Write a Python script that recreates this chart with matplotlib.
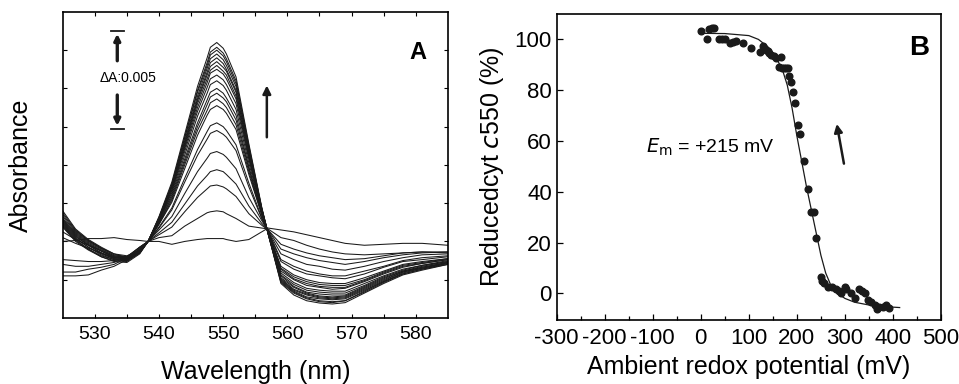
import matplotlib
matplotlib.use("Agg")
import matplotlib.pyplot as plt

plt.rcParams['font.family'] = ['Liberation Sans', 'DejaVu Sans']
plt.rcParams['axes.unicode_minus'] = False

# Panel A: redox-titration difference spectra (absorbance x 1e-3)
wavelength = [525, 527, 529, 531, 533, 535, 537, 538.3, 540, 542, 544, 546, 547.5, 548,
              549, 550, 550.5, 552, 554, 556, 557, 559, 561, 563, 565, 567, 569, 572,
              575, 578, 581, 585]

spectra = [
    [0.0, 0.05, 0.15, 0.15, 0.2, 0.1, 0.05, 0.0, 0.0, -0.15, 0.0, 0.1, 0.15, 0.15, 0.15, 0.15, 0.1, 0.0,
     0.1, 0.5, 0.7, 0.6, 0.5, 0.35, 0.2, 0.05, -0.1, -0.2, -0.15, -0.1, -0.1, -0.2],
    [-1.8, -1.8, -1.75, -1.5, -1.3, -0.95, -0.35, 0.0, 0.2, 0.3, 0.8, 1.2, 1.5, 1.55, 1.6, 1.55, 1.45, 1.2,
     0.8, 0.7, 0.65, 0.2, 0.05, -0.2, -0.4, -0.55, -0.65, -0.7, -0.65, -0.6, -0.55, -0.6],
    [-1.6, -1.6, -1.45, -1.35, -1.2, -0.85, -0.3, 0.0, 0.35, 0.75, 1.55, 2.3, 2.75, 2.9, 2.95, 2.85, 2.75, 2.35,
     1.45, 0.85, 0.6, -0.15, -0.4, -0.6, -0.75, -0.85, -0.95, -0.9, -0.75, -0.6, -0.55, -0.55],
    [-1.2, -1.3, -1.3, -1.2, -1.1, -0.8, -0.3, 0.0, 0.45, 1.0, 1.95, 2.9, 3.45, 3.65, 3.75, 3.65, 3.5, 3.0,
     1.85, 0.95, 0.6, -0.4, -0.65, -0.85, -1.0, -1.1, -1.2, -1.05, -0.85, -0.7, -0.6, -0.55],
    [-0.95, -1.0, -1.05, -1.05, -1.0, -0.8, -0.3, 0.0, 0.6, 1.3, 2.5, 3.65, 4.35, 4.6, 4.7, 4.55, 4.4, 3.8,
     2.3, 1.1, 0.55, -0.65, -0.95, -1.2, -1.3, -1.45, -1.5, -1.3, -1.05, -0.85, -0.7, -0.65],
    [0.2, -0.1, -0.35, -0.6, -0.85, -0.85, -0.4, 0.0, 0.7, 1.65, 3.1, 4.5, 5.35, 5.65, 5.8, 5.6, 5.45, 4.75,
     2.85, 1.2, 0.55, -0.95, -1.3, -1.55, -1.7, -1.8, -1.8, -1.55, -1.3, -1.0, -0.85, -0.75],
    [0.5, 0.1, -0.2, -0.5, -0.8, -0.85, -0.45, 0.0, 0.75, 1.75, 3.3, 4.8, 5.75, 6.05, 6.2, 6.0, 5.8, 5.05,
     3.05, 1.25, 0.5, -1.05, -1.45, -1.7, -1.8, -1.9, -1.95, -1.7, -1.35, -1.05, -0.95, -0.8],
    [0.75, 0.0, -0.45, -0.8, -1.0, -1.05, -0.6, 0.0, 0.9, 2.05, 3.8, 5.55, 6.6, 6.9, 7.1, 6.9, 6.7, 5.85,
     3.5, 1.4, 0.5, -1.3, -1.75, -2.0, -2.15, -2.2, -2.2, -1.9, -1.55, -1.2, -1.05, -0.9],
    [0.8, 0.05, -0.4, -0.75, -0.95, -1.0, -0.6, 0.0, 0.9, 2.15, 4.0, 5.8, 6.85, 7.25, 7.45, 7.2, 7.0, 6.1,
     3.65, 1.4, 0.5, -1.4, -1.85, -2.1, -2.25, -2.3, -2.3, -2.0, -1.6, -1.25, -1.1, -0.9],
    [0.85, 0.1, -0.4, -0.8, -1.05, -1.1, -0.65, 0.0, 0.95, 2.25, 4.15, 6.0, 7.15, 7.55, 7.75, 7.5, 7.3, 6.35,
     3.8, 1.45, 0.5, -1.45, -1.95, -2.2, -2.35, -2.4, -2.4, -2.05, -1.65, -1.3, -1.15, -0.95],
    [0.9, 0.15, -0.3, -0.65, -0.9, -0.95, -0.55, 0.0, 1.0, 2.35, 4.3, 6.2, 7.4, 7.8, 8.0, 7.75, 7.5, 6.6,
     3.9, 1.5, 0.45, -1.55, -2.0, -2.3, -2.4, -2.5, -2.45, -2.1, -1.7, -1.35, -1.15, -0.95],
    [0.95, 0.2, -0.3, -0.7, -0.95, -1.0, -0.6, 0.0, 1.05, 2.45, 4.5, 6.55, 7.75, 8.2, 8.4, 8.15, 7.9, 6.9,
     4.1, 1.55, 0.45, -1.65, -2.15, -2.45, -2.55, -2.6, -2.6, -2.2, -1.8, -1.45, -1.25, -1.0],
    [1.0, 0.25, -0.2, -0.6, -0.85, -0.9, -0.55, 0.0, 1.1, 2.55, 4.7, 6.8, 8.05, 8.5, 8.7, 8.45, 8.2, 7.2,
     4.3, 1.6, 0.45, -1.75, -2.25, -2.55, -2.65, -2.7, -2.7, -2.3, -1.85, -1.5, -1.25, -1.05],
    [1.05, 0.3, -0.2, -0.6, -0.9, -0.95, -0.55, 0.0, 1.1, 2.65, 4.85, 7.0, 8.3, 8.8, 9.0, 8.75, 8.5, 7.45,
     4.4, 1.6, 0.45, -1.8, -2.35, -2.65, -2.75, -2.8, -2.8, -2.35, -1.9, -1.55, -1.3, -1.05],
    [1.1, 0.35, -0.15, -0.5, -0.8, -0.85, -0.5, 0.0, 1.15, 2.7, 4.95, 7.2, 8.5, 8.95, 9.2, 8.9, 8.7, 7.6,
     4.5, 1.65, 0.45, -1.9, -2.4, -2.7, -2.85, -2.9, -2.85, -2.4, -1.95, -1.55, -1.35, -1.1],
    [1.15, 0.4, -0.1, -0.5, -0.85, -0.9, -0.55, 0.0, 1.2, 2.8, 5.05, 7.35, 8.7, 9.15, 9.4, 9.1, 8.9, 7.8,
     4.6, 1.7, 0.45, -1.95, -2.5, -2.75, -2.9, -2.95, -2.9, -2.45, -2.0, -1.6, -1.35, -1.1],
    [1.2, 0.45, -0.05, -0.45, -0.75, -0.8, -0.5, 0.0, 1.2, 2.85, 5.15, 7.45, 8.85, 9.35, 9.6, 9.3, 9.0, 7.9,
     4.7, 1.7, 0.4, -2.0, -2.55, -2.8, -2.95, -3.0, -2.95, -2.5, -2.05, -1.6, -1.4, -1.1],
    [1.3, 0.5, 0.0, -0.4, -0.75, -0.85, -0.5, 0.0, 1.2, 2.9, 5.25, 7.6, 9.05, 9.55, 9.8, 9.5, 9.2, 8.1,
     4.8, 1.7, 0.4, -2.05, -2.6, -2.9, -3.0, -3.05, -3.0, -2.55, -2.1, -1.65, -1.4, -1.15],
    [1.4, 0.55, 0.05, -0.35, -0.65, -0.75, -0.45, 0.0, 1.25, 2.95, 5.4, 7.8, 9.2, 9.75, 10.0, 9.7, 9.4, 8.25,
     4.9, 1.75, 0.4, -2.1, -2.65, -2.95, -3.1, -3.15, -3.1, -2.6, -2.1, -1.7, -1.45, -1.15],
    [1.5, 0.6, 0.05, -0.35, -0.7, -0.8, -0.5, 0.0, 1.25, 3.0, 5.45, 7.9, 9.35, 9.9, 10.15, 9.85, 9.55, 8.4,
     5.0, 1.75, 0.4, -2.15, -2.7, -3.0, -3.15, -3.2, -3.1, -2.65, -2.15, -1.7, -1.45, -1.2],
    [1.6, 0.65, 0.1, -0.3, -0.65, -0.85, -0.55, 0.0, 1.3, 3.1, 5.6, 8.1, 9.6, 10.15, 10.4, 10.1, 9.8, 8.6,
     5.1, 1.8, 0.4, -2.2, -2.8, -3.1, -3.22, -3.27, -3.2, -2.7, -2.2, -1.75, -1.5, -1.2],
]

# Panel B: reduced cyt c550 vs ambient redox potential
potential_mv = [0, 12, 17, 24, 28, 38, 45, 50, 61, 68, 73, 87, 104, 124, 130, 132, 136, 139,
                143, 146, 152, 157, 163, 167, 170, 174, 178, 182, 184, 188, 192, 196, 202,
                207, 214, 223, 230, 235, 240, 250, 253, 256, 264, 273, 282, 287, 292, 300,
                303, 313, 320, 330, 335, 341, 348, 355, 362, 367, 372, 380, 386, 391]
reduced_pct = [103.4, 100.0, 104.0, 104.3, 104.3, 100.1, 100.3, 100.1, 98.7, 99.0, 99.5, 98.7,
               96.5, 95.1, 97.4, 96.5, 96.0, 95.5, 94.8, 93.8, 93.5, 92.5, 89.2, 92.9, 88.8,
               88.6, 88.6, 88.6, 85.6, 83.3, 79.4, 74.8, 66.3, 62.7, 52.1, 41.1, 32.2, 32.2,
               21.7, 6.6, 4.8, 3.9, 2.6, 2.4, 1.6, 1.0, 0.0, 2.6, 1.8, 0.0, -2.0, 1.6, 0.8,
               0.3, -2.6, -3.5, -4.6, -6.0, -5.2, -5.5, -4.6, -5.9]

fit_mv = [0, 50, 100, 120, 140, 155, 170, 180, 190, 200, 210, 220, 230, 240, 250, 260,
          270, 285, 300, 320, 350, 380, 414]
fit_pct = [102.4, 102.3, 101.5, 100.0, 97.0, 93.5, 88.0, 82.0, 73.0, 62.0, 52.0, 42.0, 33.0,
           24.0, 15.0, 8.0, 3.5, 0.0, -2.0, -3.5, -4.6, -5.2, -5.6]

fig = plt.figure(figsize=(9.59, 3.84), dpi=100)
axA = fig.add_axes([0.0654, 0.172, 0.4016, 0.797])
axB = fig.add_axes([0.5805, 0.1667, 0.4007, 0.7968])

# ---- Panel A ----
for row in spectra:
    axA.plot(wavelength, row, color="#1a1a1a", lw=0.75)

axA.set_xlim(525, 585)
axA.set_ylim(-4, 12)
axA.set_xticks([530, 540, 550, 560, 570, 580])
axA.set_xticks([535, 545, 555, 565, 575], minor=True)
axA.set_yticks([-2, 0, 2, 4, 6, 8, 10])
axA.set_yticklabels([])
axA.tick_params(axis="both", which="both", direction="in", top=True, right=True,
                length=3, width=0.8, labelsize=14)
axA.tick_params(axis="x", pad=6)
for s in axA.spines.values():
    s.set_linewidth(1.2)
axA.set_xlabel("Wavelength (nm)", fontsize=18, labelpad=12)
axA.set_ylabel("Absorbance", fontsize=18, labelpad=18)

# scale bar
bar_x = 533.5
axA.annotate("", xy=(bar_x, 11.0), xytext=(bar_x, 9.3),
             arrowprops=dict(arrowstyle="-|>", color="#1a1a1a", lw=2.4, mutation_scale=9))
axA.annotate("", xy=(bar_x, 5.9), xytext=(bar_x, 7.8),
             arrowprops=dict(arrowstyle="-|>", color="#1a1a1a", lw=2.4, mutation_scale=9))
axA.plot([bar_x - 1.0, bar_x + 1.0], [11.0, 11.0], color="#1a1a1a", lw=1.3)
axA.plot([bar_x - 1.0, bar_x + 1.0], [5.9, 5.9], color="#1a1a1a", lw=1.3)
axA.text(535.2, 8.55, "\u0394A:0.005", fontsize=10, ha="center", va="center")
axA.annotate("", xy=(556.8, 8.3), xytext=(556.8, 5.3),
             arrowprops=dict(arrowstyle="-|>", color="#1a1a1a", lw=1.8, mutation_scale=12))
axA.text(580.4, 9.9, "A", fontsize=17, fontweight="bold", ha="center", va="center")

# ---- Panel B ----
axB.plot(fit_mv, fit_pct, color="#1a1a1a", lw=0.9)
axB.plot(potential_mv, reduced_pct, "o", color="#1a1a1a", ms=4.8)
axB.set_xlim(-300, 500)
axB.set_ylim(-10.5, 110)
axB.set_xticks(range(-300, 501, 100))
axB.set_xticks(range(-250, 500, 100), minor=True)
axB.set_yticks(range(0, 101, 20))
axB.tick_params(axis="both", which="both", direction="in", length=4, width=0.9, labelsize=16)
axB.tick_params(axis="x", which="minor", length=3)
axB.tick_params(axis="x", pad=6)
for s in axB.spines.values():
    s.set_linewidth(1.2)
axB.set_xlabel("Ambient redox potential (mV)", fontsize=18, labelpad=4)
axB.set_ylabel("Reducedcyt $\\mathit{c}$550 (%)", fontsize=18, labelpad=6)
axB.text(20, 57.5, "$\\mathit{E}_{\\mathrm{m}}$ = +215 mV", fontsize=14, ha="center", va="center")
axB.annotate("", xy=(282, 67.8), xytext=(299, 50.0),
             arrowprops=dict(arrowstyle="-|>", color="#1a1a1a", lw=1.8, mutation_scale=12))
axB.text(455, 96.5, "B", fontsize=20, fontweight="bold", ha="center", va="center")

fig.savefig("out.png", dpi=100)
